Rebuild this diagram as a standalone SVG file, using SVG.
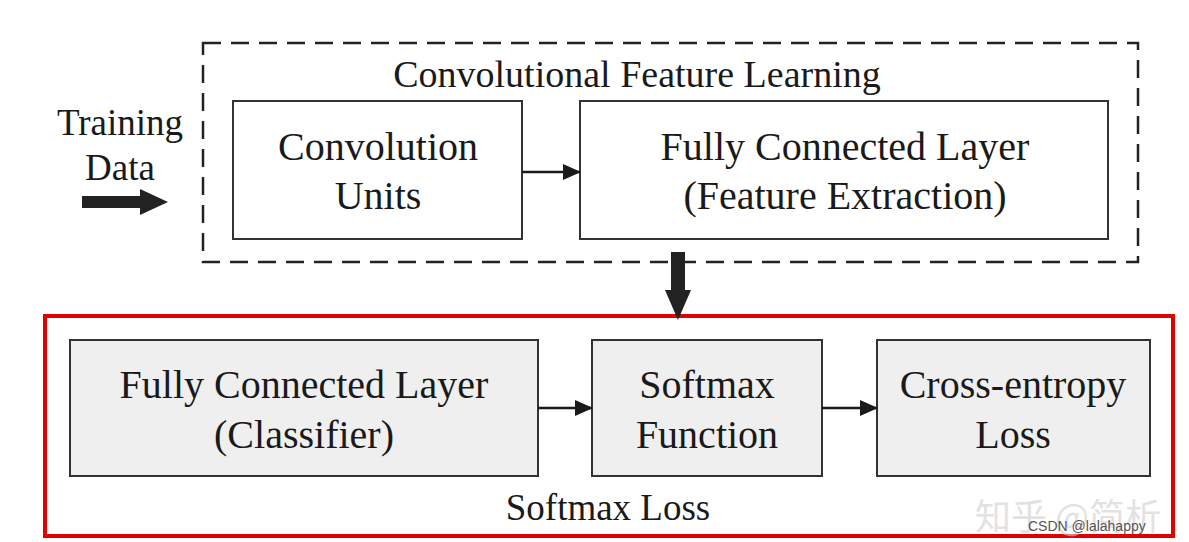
<svg xmlns="http://www.w3.org/2000/svg" width="1189" height="542" viewBox="0 0 1189 542">
<style>
.t{font-family:"Liberation Serif","Times New Roman",serif;fill:#1a1a1a;text-anchor:middle}
.box{fill:#ffffff;stroke:#333;stroke-width:2}
.gbox{fill:#efefef;stroke:#333;stroke-width:2}
.ln{stroke:#1a1a1a;stroke-width:2.5;fill:none}
.wm1{font-family:"Noto Sans CJK SC","Noto Sans",sans-serif;font-size:36px;fill:#d0d0d0;opacity:0.6}
.wm2{font-family:"Liberation Sans",Arial,sans-serif;font-size:14px;fill:#555}
</style>
<defs>
<marker id="ah" markerWidth="18" markerHeight="16" refX="17" refY="8" orient="auto" markerUnits="userSpaceOnUse" viewBox="0 0 18 16">
<path d="M0,0 L18,8 L0,16 Z" fill="#1a1a1a"/>
</marker>
</defs>
<rect width="1189" height="542" fill="#ffffff"/>
<g id="feature-learning">
<rect x="203" y="43" width="935" height="219" fill="none" stroke="#222" stroke-width="2.5" stroke-dasharray="18,10"/>
<text class="t" x="637" y="87" font-size="38">Convolutional Feature Learning</text>
</g>
<g id="training-data">
<text class="t" x="120" y="135" font-size="37">Training</text>
<text class="t" x="120" y="180" font-size="37">Data</text>
</g>
<g id="conv-units">
<rect class="box" x="233" y="101" width="289" height="138"/>
<text class="t" x="378" y="160" font-size="40">Convolution</text>
<text class="t" x="378" y="209" font-size="40">Units</text>
</g>
<g id="fc-feature">
<rect class="box" x="580" y="101" width="528" height="138"/>
<text class="t" x="845" y="160" font-size="40">Fully Connected Layer</text>
<text class="t" x="845" y="209" font-size="40">(Feature Extraction)</text>
</g>
<g id="softmax-loss">
<rect x="45" y="316" width="1128" height="220" fill="none" stroke="#e00000" stroke-width="4"/>
<text class="t" x="608" y="520" font-size="37">Softmax Loss</text>
</g>
<g id="fc-classifier">
<rect class="gbox" x="70" y="340" width="468" height="136"/>
<text class="t" x="304" y="398" font-size="40">Fully Connected Layer</text>
<text class="t" x="304" y="448" font-size="40">(Classifier)</text>
</g>
<g id="softmax-function">
<rect class="gbox" x="592" y="340" width="230" height="136"/>
<text class="t" x="707" y="398" font-size="40">Softmax</text>
<text class="t" x="707" y="448" font-size="40">Function</text>
</g>
<g id="cross-entropy">
<rect class="gbox" x="877" y="340" width="273" height="136"/>
<text class="t" x="1013" y="398" font-size="40">Cross-entropy</text>
<text class="t" x="1013" y="448" font-size="40">Loss</text>
</g>
<g id="connectors">
<line class="ln" x1="522" y1="172" x2="580" y2="172" marker-end="url(#ah)"/>
<line class="ln" x1="538" y1="408" x2="592" y2="408" marker-end="url(#ah)"/>
<line class="ln" x1="822" y1="408" x2="877" y2="408" marker-end="url(#ah)"/>
<path d="M82,196 L140,196 L140,189 L168,202 L140,215 L140,208 L82,208 Z" fill="#222"/>
<path d="M671,252 L685,252 L685,290 L691,290 L678,320 L665,290 L671,290 Z" fill="#222"/>
</g>
<g id="watermark">
<text class="wm1" x="975" y="530">知乎 @简析</text>
<text class="wm2" x="1028" y="531">CSDN @lalahappy</text>
</g>
</svg>
